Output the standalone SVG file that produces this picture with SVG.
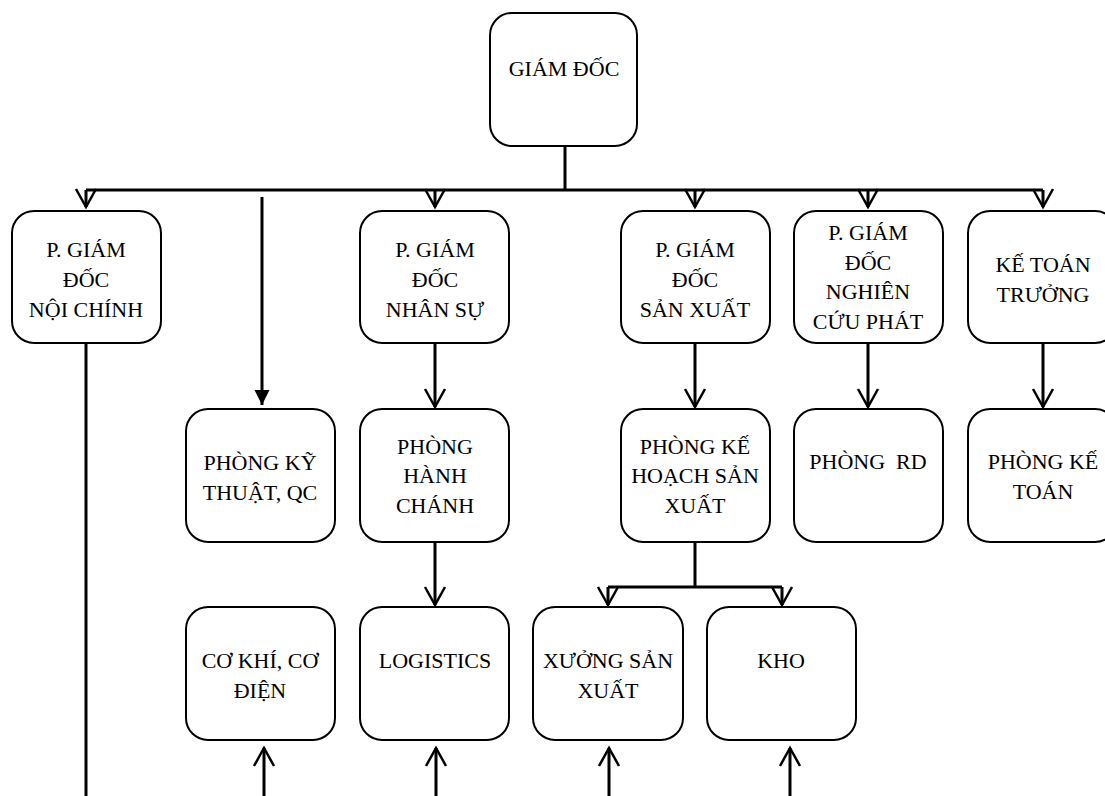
<svg xmlns="http://www.w3.org/2000/svg" width="1105" height="796" viewBox="0 0 1105 796">
<style>
.box{fill:#fff;stroke:#000;stroke-width:2}
text{font-family:'Liberation Serif','Times New Roman',Tinos,'DejaVu Serif',serif;font-size:22px;fill:#000;text-anchor:middle}
.ln{fill:none;stroke:#000;stroke-width:3}
.ar{fill:none;stroke:#000;stroke-width:3;marker-end:url(#open)}
.af{fill:none;stroke:#000;stroke-width:3;marker-end:url(#solid)}
</style>
<defs>
<marker id="open" markerUnits="userSpaceOnUse" markerWidth="40" markerHeight="40" refX="0" refY="0" orient="auto" overflow="visible">
<path d="M-18,-10 L0,0 L-18,10" fill="none" stroke="#000" stroke-width="2.5"/>
</marker>
<marker id="solid" markerUnits="userSpaceOnUse" markerWidth="40" markerHeight="40" refX="0" refY="0" orient="auto" overflow="visible">
<path d="M-15,-7.5 L0,0 L-15,7.5 Z" fill="#000"/>
</marker>
</defs>

<g id="connectors">
<path class="ln" d="M565,146 V190"/>
<path class="ln" d="M86,190 H1043"/>
<path class="ar" d="M86,190 V207"/>
<path class="ar" d="M435,190 V207"/>
<path class="ar" d="M695,190 V207"/>
<path class="ar" d="M868,190 V207"/>
<path class="ar" d="M1043,190 V207"/>
<path class="af" d="M262,197 V405"/>
<path class="ln" d="M86,343 V796"/>
<path class="ar" d="M435,343 V407"/>
<path class="ar" d="M695,343 V407"/>
<path class="ar" d="M868,343 V407"/>
<path class="ar" d="M1043,343 V407"/>
<path class="ar" d="M435,542 V605"/>
<path class="ln" d="M695,542 V587"/>
<path class="ln" d="M608,587 H782"/>
<path class="ar" d="M608,587 V605"/>
<path class="ar" d="M782,587 V605"/>
<path class="ar" d="M264,796 V748"/>
<path class="ar" d="M436,796 V748"/>
<path class="ar" d="M609,796 V748"/>
<path class="ar" d="M790,796 V748"/>
</g>

<g id="giam-doc">
<rect class="box" x="490" y="13" width="147" height="133" rx="22"/>
<text x="564" y="76">GIÁM ĐỐC</text>
</g>

<g id="pgd-noi-chinh">
<rect class="box" x="12" y="211" width="149" height="132" rx="22"/>
<text x="86" y="257">P. GIÁM</text>
<text x="86" y="287">ĐỐC</text>
<text x="86" y="317">NỘI CHÍNH</text>
</g>

<g id="pgd-nhan-su">
<rect class="box" x="360" y="211" width="149" height="132" rx="22"/>
<text x="435" y="257">P. GIÁM</text>
<text x="435" y="287">ĐỐC</text>
<text x="435" y="317">NHÂN SỰ</text>
</g>

<g id="pgd-san-xuat">
<rect class="box" x="621" y="211" width="149" height="132" rx="22"/>
<text x="695" y="257">P. GIÁM</text>
<text x="695" y="287">ĐỐC</text>
<text x="695" y="317">SẢN XUẤT</text>
</g>

<g id="pgd-nghien-cuu">
<rect class="box" x="794" y="211" width="149" height="132" rx="22"/>
<text x="868" y="240">P. GIÁM</text>
<text x="868" y="270">ĐỐC</text>
<text x="868" y="299">NGHIÊN</text>
<text x="868" y="329">CỨU PHÁT</text>
</g>

<g id="ke-toan-truong">
<rect class="box" x="968" y="211" width="149" height="132" rx="22"/>
<text x="1043" y="272">KẾ TOÁN</text>
<text x="1043" y="302">TRƯỞNG</text>
</g>

<g id="phong-ky-thuat">
<rect class="box" x="186" y="409" width="149" height="133" rx="22"/>
<text x="260" y="470">PHÒNG KỸ</text>
<text x="260" y="500">THUẬT, QC</text>
</g>

<g id="phong-hanh-chanh">
<rect class="box" x="360" y="409" width="149" height="133" rx="22"/>
<text x="435" y="454">PHÒNG</text>
<text x="435" y="483">HÀNH</text>
<text x="435" y="513">CHÁNH</text>
</g>

<g id="phong-ke-hoach">
<rect class="box" x="621" y="409" width="149" height="133" rx="22"/>
<text x="695" y="454">PHÒNG KẾ</text>
<text x="695" y="483">HOẠCH SẢN</text>
<text x="695" y="513">XUẤT</text>
</g>

<g id="phong-rd">
<rect class="box" x="794" y="409" width="149" height="133" rx="22"/>
<text x="868" y="469" xml:space="preserve">PHÒNG  RD</text>
</g>

<g id="phong-ke-toan">
<rect class="box" x="968" y="409" width="149" height="133" rx="22"/>
<text x="1043" y="469">PHÒNG KẾ</text>
<text x="1043" y="499">TOÁN</text>
</g>

<g id="co-khi">
<rect class="box" x="186" y="607" width="149" height="133" rx="22"/>
<text x="260" y="668">CƠ KHÍ, CƠ</text>
<text x="260" y="698">ĐIỆN</text>
</g>

<g id="logistics">
<rect class="box" x="360" y="607" width="149" height="133" rx="22"/>
<text x="435" y="668">LOGISTICS</text>
</g>

<g id="xuong-san-xuat">
<rect class="box" x="533" y="607" width="150" height="133" rx="22"/>
<text x="608" y="668">XƯỞNG SẢN</text>
<text x="608" y="698">XUẤT</text>
</g>

<g id="kho">
<rect class="box" x="707" y="607" width="149" height="133" rx="22"/>
<text x="781" y="668">KHO</text>
</g>
</svg>
